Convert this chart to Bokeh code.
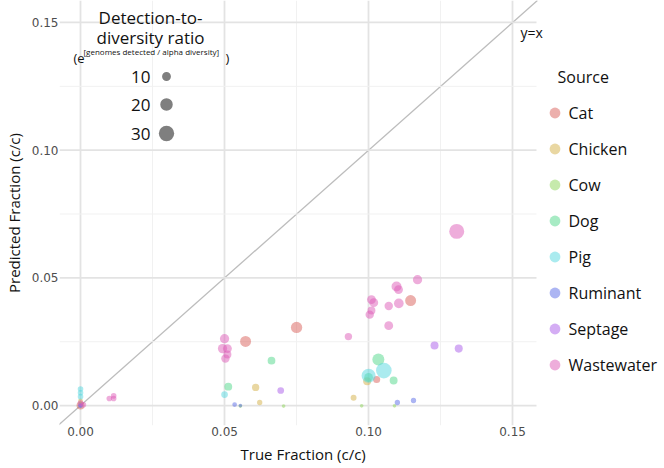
from bokeh.plotting import figure
from bokeh.models import (Range1d, FixedTicker, NumeralTickFormatter, Legend, LegendItem,
                          Label, Slope, ColumnDataSource, Title)
from bokeh.embed import file_html
from bokeh.resources import INLINE
import numpy as np

# ---------------- data ----------------
sources = ["Cat", "Chicken", "Cow", "Dog", "Pig", "Ruminant", "Septage", "Wastewater"]
colors = ["#D95F5A", "#D4B046", "#8ED65A", "#4FD88A", "#55D8DF", "#5A6CE8", "#A95BEA", "#DE5CB8"]

cat_true = [0.0, 0.0573, 0.075, 0.1146, 0.1028]
cat_pred = [0.0, 0.0251, 0.0306, 0.0411, 0.0102]
cat_ratio = [8, 15.4, 16.3, 15.4, 6.5]

chicken_true = [0.0, 0.0608, 0.0622, 0.0948, 0.0995]
chicken_pred = [0.0018, 0.0071, 0.0012, 0.0031, 0.0095]
chicken_ratio = [3, 6.8, 3.6, 4.5, 8]

cow_true = [0.0, 0.0555, 0.0705, 0.0976, 0.109]
cow_pred = [0.0008, -0.0002, -0.0002, -0.0001, -0.0001]
cow_ratio = [2, 1.7, 1.7, 1.7, 1.7]

dog_true = [0.0, 0.0513, 0.0663, 0.1034, 0.100, 0.1087]
dog_pred = [0.0, 0.0074, 0.0176, 0.018, 0.011, 0.0098]
dog_ratio = [3, 7.8, 7.6, 18.4, 10, 8]

pig_true = [0.0, 0.0, 0.0, 0.050, 0.1000, 0.1053]
pig_pred = [0.0065, 0.005, 0.0035, 0.0043, 0.0117, 0.0137]
pig_ratio = [4, 4, 4, 5.7, 25, 31]

ruminant_true = [0.0, 0.0535, 0.0555, 0.110, 0.1156]
ruminant_pred = [0.0, 0.0004, 0.0, 0.0012, 0.002]
ruminant_ratio = [2, 2.8, 1.7, 3.6, 3.6]

septage_true = [0.0, 0.0695, 0.1229, 0.1313]
septage_pred = [0.0, 0.0059, 0.0235, 0.0223]
septage_ratio = [3, 5.7, 8.2, 8.2]

wastewater_true = [0.0, 0.001, 0.010, 0.0115, 0.0115, 0.050, 0.0493, 0.051, 0.051, 0.0503,
                   0.1306, 0.117, 0.1097, 0.1104, 0.1010, 0.1018, 0.107, 0.1105, 0.101,
                   0.1004, 0.107, 0.0930]
wastewater_pred = [0.001, 0.0003, 0.0028, 0.0028, 0.0038, 0.0262, 0.0223, 0.0223, 0.0200, 0.0184,
                   0.0682, 0.0493, 0.0466, 0.0454, 0.0415, 0.0403, 0.039, 0.040, 0.0372,
                   0.0356, 0.0313, 0.0270]
wastewater_ratio = [4, 4, 4, 4, 4, 11, 11, 10, 8, 9,
                    28.7, 11, 12.8, 10, 10, 10, 9, 12, 8,
                    9, 10, 7]

series = {
    "Cat": (cat_true, cat_pred, cat_ratio),
    "Chicken": (chicken_true, chicken_pred, chicken_ratio),
    "Cow": (cow_true, cow_pred, cow_ratio),
    "Dog": (dog_true, dog_pred, dog_ratio),
    "Pig": (pig_true, pig_pred, pig_ratio),
    "Ruminant": (ruminant_true, ruminant_pred, ruminant_ratio),
    "Septage": (septage_true, septage_pred, septage_ratio),
    "Wastewater": (wastewater_true, wastewater_pred, wastewater_ratio),
}

x_ticks = [0.0, 0.05, 0.10, 0.15]
y_ticks = [0.0, 0.05, 0.10, 0.15]
minor = [0.025, 0.075, 0.125]
size_legend_values = [10, 20, 30]

# ---------------- layout ----------------
W, H = 664, 468
L, T, B = 58, 0, 43
PANEL_R = 535                    # right edge of the gridded panel (px)
FW, FH = W - L, H - T - B        # frame spans to the right edge (legend lives inside)
X0, X1 = -0.0073, 0.1583         # panel data limits
Y0, Y1 = -0.0078, 0.1586
SX = (PANEL_R - L) / (X1 - X0)   # px per data unit
XF = X0 + FW / SX                # data value at the right edge of the frame
K = 2.8                          # diameter = K * sqrt(ratio)
FONT = "Open Sans"
INK = "#111111"


def px2x(px):
    return X0 + (px - L) / SX


def py2y(py):
    return Y1 - (py - T) / FH * (Y1 - Y0)


p = figure(frame_width=FW, frame_height=FH, output_backend="svg", toolbar_location=None,
           x_range=Range1d(X0, XF), y_range=Range1d(Y0, Y1),
           min_border_left=L, min_border_right=0, min_border_top=T, min_border_bottom=B)
p.outline_line_color = None
p.background_fill_color = "white"
p.border_fill_color = "white"

for ax, ticks in ((p.xaxis, x_ticks), (p.yaxis, y_ticks)):
    ax.ticker = FixedTicker(ticks=ticks, minor_ticks=minor)
    ax.formatter = NumeralTickFormatter(format="0.00")
    ax.axis_line_color = None
    ax.major_tick_line_color = None
    ax.minor_tick_line_color = None
    ax.major_tick_out = 0
    ax.major_tick_in = 0
    ax.minor_tick_out = 0
    ax.minor_tick_in = 0
    ax.major_label_text_font = "DejaVu Sans"
    ax.major_label_text_font_size = "12px"
    ax.major_label_text_color = "#4D4D4D"
    ax.axis_label_text_font = FONT
    ax.axis_label_text_font_size = "15px"
    ax.axis_label_text_font_style = "normal"
    ax.axis_label_text_color = INK

p.yaxis.axis_label = "Predicted Fraction (c/c)"
p.xaxis.major_label_standoff = 1
p.yaxis.major_label_standoff = 1
p.yaxis.axis_label_standoff = 5

p.add_layout(Title(text="True Fraction (c/c)", align="left", offset=181, standoff=6,
                   text_font=FONT, text_font_size="15px", text_font_style="normal",
                   text_color=INK, vertical_align="bottom"), "below")

# grid: vertical lines from the built-in grid, horizontal ones limited to the panel
p.xgrid.grid_line_color = "#E3E3E3"
p.xgrid.grid_line_width = 1.8
p.xgrid.minor_grid_line_color = "#F1F1F1"
p.xgrid.minor_grid_line_width = 1
p.ygrid.visible = False
p.segment(x0=[X0] * len(minor), x1=[X1] * len(minor), y0=minor, y1=minor,
          line_color="#F1F1F1", line_width=1)
p.segment(x0=[X0] * len(y_ticks), x1=[X1] * len(y_ticks), y0=y_ticks, y1=y_ticks,
          line_color="#E3E3E3", line_width=1.8)

# y = x line
p.add_layout(Slope(gradient=1, y_intercept=0, line_color="#BDBDBD", line_width=1.3, level="underlay"))
p.add_layout(Label(x=px2x(519), y=py2y(32), text="y=x", text_font=FONT, text_font_size="14px",
                   text_baseline="middle", text_align="left", text_color=INK))

# points
items = []
for name, col in zip(sources, colors):
    xs, ys, rs = series[name]
    src = ColumnDataSource(dict(x=xs, y=ys, ratio=rs, size=[K * np.sqrt(r) for r in rs]))
    r = p.scatter("x", "y", size="size", source=src, fill_color=col, fill_alpha=0.5,
                  line_color=col, line_alpha=0.0)
    items.append(LegendItem(label=name, renderers=[r]))

legend = Legend(items=items, location=(539.5 - L, H - B - 378),
                orientation="vertical", margin=0, padding=0,
                glyph_width=27, glyph_height=27, label_height=27, spacing=9,
                label_standoff=1,
                label_text_font=FONT, label_text_font_size="16px", label_text_color=INK,
                border_line_alpha=0, background_fill_alpha=0)
p.add_layout(legend, "center")


def lab(px, py, text, size, align="center"):
    p.add_layout(Label(x=px2x(px), y=py2y(py), text=text, text_font=FONT, text_font_size=size,
                       text_align=align, text_baseline="middle", text_color=INK))


lab(556, 76, "Source", "16px", "left")

# size legend
lab(149, 17, "Detection-to-", "17px")
lab(149, 37, "diversity ratio", "17px")
lab(72, 57, "(e", "13px", "left")
lab(82, 51, "[genomes detected / alpha diversity]", "8px", "left")
lab(224, 57, ")", "13px", "left")
leg_py = [76, 104, 133]
for v, py in zip(size_legend_values, leg_py):
    lab(149, py, str(v), "17px", "right")
p.scatter([px2x(165)] * 3, [py2y(py) for py in leg_py],
          size=[K * np.sqrt(v) for v in size_legend_values],
          fill_color="#7F7F7F", line_color=None)

open("out.html", "w").write(file_html(p, INLINE))
